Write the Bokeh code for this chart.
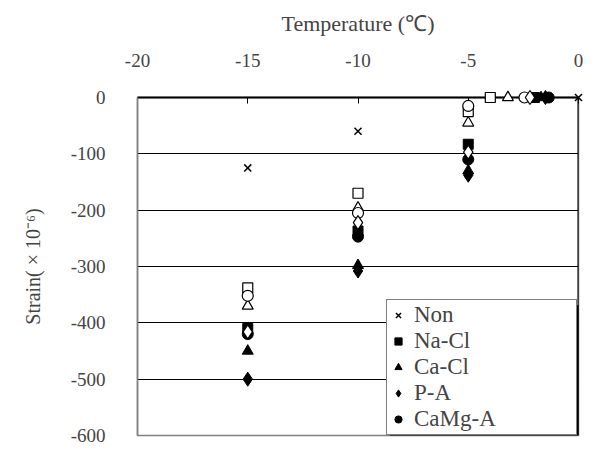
from bokeh.plotting import figure
from bokeh.models import Range1d, FixedTicker, Span, Legend, LegendItem, Grid, BoxAnnotation
from bokeh.embed import file_html
from bokeh.resources import INLINE

# Data (temperature in degC, strain in 1e-6)
non_t = [0, -10, -15]
non_s = [0, -60, -125]

nacl_t = [-2.0, -5, -10, -15]
nacl_s = [0, -83, -237, -410]
cacl_t = [-1.7, -5, -10, -15]
cacl_s = [0, -130, -298, -450]
pa_t = [-1.5, -5, -10, -15]
pa_s = [0, -138, -308, -500]
camg_t = [-1.35, -5, -10, -15]
camg_s = [0, -110, -247, -420]

# open-marker series (not in legend)
nacl2_t = [-4.0, -5, -10, -15]
nacl2_s = [0, -25, -170, -338]
cacl2_t = [-3.2, -5, -10, -15]
cacl2_s = [0, -45, -196, -370]
pa2_t = [-2.2, -5, -10, -15]
pa2_s = [0, -97, -222, -416]
camg2_t = [-2.45, -5, -10, -15]
camg2_s = [0, -15, -205, -352]

x_ticks = [-20, -15, -10, -5, 0]
y_ticks = [-600, -500, -400, -300, -200, -100, 0]

FONT = "Liberation Serif"

p = figure(width=597, height=450, output_backend="svg", toolbar_location=None,
           x_range=Range1d(-20, 0), y_range=Range1d(-600, 0),
           x_axis_location="above", y_axis_location="left",
           min_border_left=137, min_border_right=19, min_border_top=97, min_border_bottom=15)
p.background_fill_color = "white"
p.border_fill_color = "white"
p.outline_line_color = "#808080"
p.outline_line_width = 1.5

p.xgrid.visible = False
p.ygrid.visible = False
p.add_layout(Grid(dimension=1, ticker=FixedTicker(ticks=[-500, -400, -300, -200, -100]),
                  grid_line_color="black", grid_line_width=1))

xa = p.xaxis[0]
xa.ticker = FixedTicker(ticks=x_ticks)
xa.major_label_overrides = {t: str(t) for t in x_ticks}
xa.axis_label = "Temperature (℃)"
xa.axis_label_text_font = FONT
xa.axis_label_text_font_size = "22px"
xa.axis_label_text_font_style = "normal"
xa.axis_label_standoff = 15
xa.major_label_text_font = FONT
xa.major_label_text_font_size = "19px"
xa.major_label_standoff = 31
xa.axis_line_color = "black"
xa.axis_line_width = 2
xa.major_tick_in = 6
xa.major_tick_out = 0
xa.major_tick_line_color = "black"
xa.minor_tick_line_color = None

ya = p.yaxis[0]
ya.ticker = FixedTicker(ticks=y_ticks)
ya.major_label_overrides = {t: str(t) for t in y_ticks}
ya.axis_label = "Strain( × 10⁻⁶)"
ya.axis_label_text_font = FONT
ya.axis_label_text_font_size = "20px"
ya.axis_label_text_font_style = "normal"
ya.axis_label_standoff = 24
ya.major_label_text_font = FONT
ya.major_label_text_font_size = "19px"
ya.major_label_standoff = 26
ya.axis_line_color = "#808080"
ya.axis_line_width = 1.5
ya.major_tick_line_color = None
ya.minor_tick_line_color = None

p.add_layout(Span(location=0, dimension="height", line_color="black", line_width=2))

LV = "overlay"
# filled series
r_nacl = p.scatter(nacl_t, nacl_s, marker="square", size=10, fill_color="black", line_color="black", level=LV)
r_cacl = p.scatter(cacl_t, cacl_s, marker="triangle", size=11, fill_color="black", line_color="black", level=LV)
r_pa = p.scatter(pa_t, pa_s, marker="diamond", size=14, fill_color="black", line_color="black", level=LV)
r_camg = p.scatter(camg_t, camg_s, marker="circle", size=11, fill_color="black", line_color="black", level=LV)
# open series
p.scatter(nacl2_t, nacl2_s, marker="square", size=10, fill_color="white", line_color="black", line_width=1.2, level=LV)
p.scatter(cacl2_t, cacl2_s, marker="triangle", size=11, fill_color="white", line_color="black", line_width=1.2, level=LV)
p.scatter(camg2_t, camg2_s, marker="circle", size=11, fill_color="white", line_color="black", line_width=1.2, level=LV)
p.scatter(pa2_t, pa2_s, marker="diamond", size=14, fill_color="white", line_color="black", line_width=1.2, level=LV)
r_non = p.scatter(non_t, non_s, marker="x", size=10, line_color="black", line_width=1.5, level=LV)

labels = ["Non", "Na-Cl", "Ca-Cl", "P-A", "CaMg-A"]
rends = [r_non, r_nacl, r_cacl, r_pa, r_camg]

# legend drop shadow (style only)
p.add_layout(BoxAnnotation(left=-8.55, right=0.05, top=-369, bottom=-605,
                           fill_color="black", fill_alpha=1, line_color=None))

lg = Legend(items=[LegendItem(label=l, renderers=[r]) for l, r in zip(labels, rends)],
            location=(249, 0))
lg.label_text_font = FONT
lg.label_text_font_size = "23px"
lg.label_width = 160
lg.label_height = 26
lg.glyph_height = 26
lg.glyph_width = 18
lg.label_standoff = 7
lg.spacing = 0
lg.padding = 2
lg.margin = 0
lg.border_line_color = "black"
lg.border_line_width = 1.2
lg.background_fill_color = "white"
lg.background_fill_alpha = 1
p.add_layout(lg, "center")

open("out.html", "w").write(file_html(p, INLINE))
